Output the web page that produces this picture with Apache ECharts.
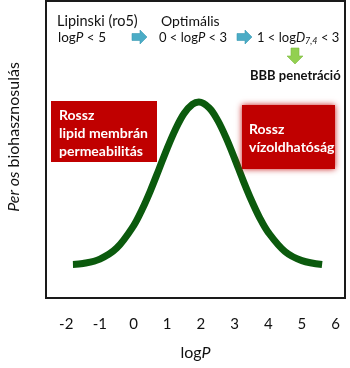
<!DOCTYPE html>
<html>
<head>
<meta charset="utf-8">
<script src="https://cdn.jsdelivr.net/npm/echarts@6/dist/echarts.min.js"></script>
<style>
  html, body { margin: 0; padding: 0; background: #fff; }
  #chart { width: 350px; height: 368px; }
</style>
</head>
<body>
<div id="chart"></div>
<script>
// Bioavailability vs. logP (bell-shaped profile)
const logP = [-1.8, -1.5, -1.0, -0.5, 0, 0.25, 0.5, 0.75, 1.0, 1.25, 1.5, 1.75, 1.94, 2.25, 2.5, 2.75, 3.0, 3.25, 3.5, 3.75, 4.0, 4.5, 5.0, 5.6];
const bioavailability = [11.3, 11.6, 13.1, 16.8, 24.3, 29.7, 36.1, 43.2, 50.4, 56.9, 62.1, 65.2, 66.0, 64.0, 59.8, 53.9, 47.0, 39.7, 32.9, 26.9, 22.1, 15.6, 12.6, 11.3];
const tickLabels = [-2, -1, 0, 1, 2, 3, 4, 5, 6];

const FONT = 'Lato, "Liberation Sans", sans-serif';
const RED = '#c00000';
const BLUE = '#4bacc6';
const LIGHTGREEN = '#92d050';

function rightArrow(x, y) {
  return {
    type: 'polygon',
    shape: { points: [[x, y - 3.5], [x + 8, y - 3.5], [x + 8, y - 7], [x + 15, y], [x + 8, y + 7], [x + 8, y + 3.5], [x, y + 3.5]] },
    style: { fill: BLUE, stroke: '#3b9ab3', lineWidth: 0.6 }
  };
}
function downArrow(x, y) {
  return {
    type: 'polygon',
    shape: { points: [[x - 4, y], [x + 4, y], [x + 4, y + 8], [x + 8, y + 8], [x, y + 16], [x - 8, y + 8], [x - 4, y + 8]] },
    style: { fill: LIGHTGREEN, stroke: '#7dba3f', lineWidth: 0.6 }
  };
}
function label(x, y, text, size, extra) {
  return {
    type: 'text', x: x, y: y, z: 10,
    style: Object.assign({
      text: text, fill: '#111', font: size + 'px ' + FONT, verticalAlign: 'middle', align: 'left',
      rich: {
        i: { fontStyle: 'italic', fontSize: size, fontFamily: FONT, fill: '#111' },
        sub: { fontStyle: 'italic', fontSize: 9, fontFamily: FONT, fill: '#111', verticalAlign: 'bottom', padding: [6, 0, 0, 0] }
      }
    }, extra || {})
  };
}

const chart = echarts.init(document.getElementById('chart'));
chart.setOption({
  animation: false,
  backgroundColor: '#fff',
  grid: { left: 46, right: 5, top: 1, bottom: 70, show: true, borderColor: '#1a1a1a', borderWidth: 2, backgroundColor: 'transparent' },
  xAxis: {
    type: 'value', min: -2.6, max: 6.28,
    name: 'log{i|P}', nameLocation: 'middle', nameGap: 47,
    nameTextStyle: { fontFamily: FONT, fontSize: 16, color: '#111', rich: { i: { fontStyle: 'italic', fontFamily: FONT, fontSize: 16, color: '#111' } } },
    axisLine: { show: false }, axisTick: { show: false }, splitLine: { show: false },
    axisLabel: { customValues: tickLabels, margin: 19, fontFamily: FONT, fontSize: 15, color: '#111' }
  },
  yAxis: {
    type: 'value', min: 0, max: 100,
    axisLine: { show: false }, axisTick: { show: false }, splitLine: { show: false }, axisLabel: { show: false }
  },
  series: [{
    type: 'line', data: logP.map((x, i) => [x, bioavailability[i]]),
    smooth: 0.35, showSymbol: false, z: 3,
    lineStyle: { color: '#0b5a0d', width: 7 }
  }],
  graphic: [
    // y-axis title
    {
      type: 'text', x: 14, y: 137, rotation: Math.PI / 2,
      style: {
        text: '{i|Per os} biohasznosulás', fill: '#111', font: '16px ' + FONT, align: 'center', verticalAlign: 'middle',
        rich: { i: { fontStyle: 'italic', fontSize: 16, fontFamily: FONT, fill: '#111' } }
      }
    },
    // property rules along the top
    label(57, 21, 'Lipinski (ro5)', 14.5),
    label(58, 38, 'log{i|P} < 5', 13.5),
    rightArrow(132, 37),
    label(161, 21, 'Optimális', 14),
    label(159, 38, '0 < log{i|P} < 3', 13),
    rightArrow(237, 37),
    label(257, 38, '1 < log{i|D}{sub|7,4} < 3', 13),
    downArrow(295, 48),
    label(250, 76, 'BBB penetráció', 13, { font: 'bold 13px ' + FONT }),
    // left warning box
    { type: 'rect', shape: { x: 51, y: 101, width: 106, height: 61 }, style: { fill: RED }, z: 5 },
    { type: 'text', x: 59, y: 106, z: 6, style: { text: 'Rossz\nlipid membrán\npermeabilitás', fill: '#fff', font: 'bold 14px ' + FONT, lineHeight: 18, verticalAlign: 'top' } },
    // right warning box (soft edge)
    { type: 'rect', shape: { x: 242, y: 105, width: 93, height: 64 }, style: { fill: RED, shadowBlur: 6, shadowColor: 'rgba(192,0,0,0.9)' }, z: 5 },
    { type: 'text', x: 249, y: 120, z: 6, style: { text: 'Rossz\nvízoldhatóság', fill: '#fff', font: 'bold 14px ' + FONT, lineHeight: 18, verticalAlign: 'top' } }
  ]
});
</script>
</body>
</html>
